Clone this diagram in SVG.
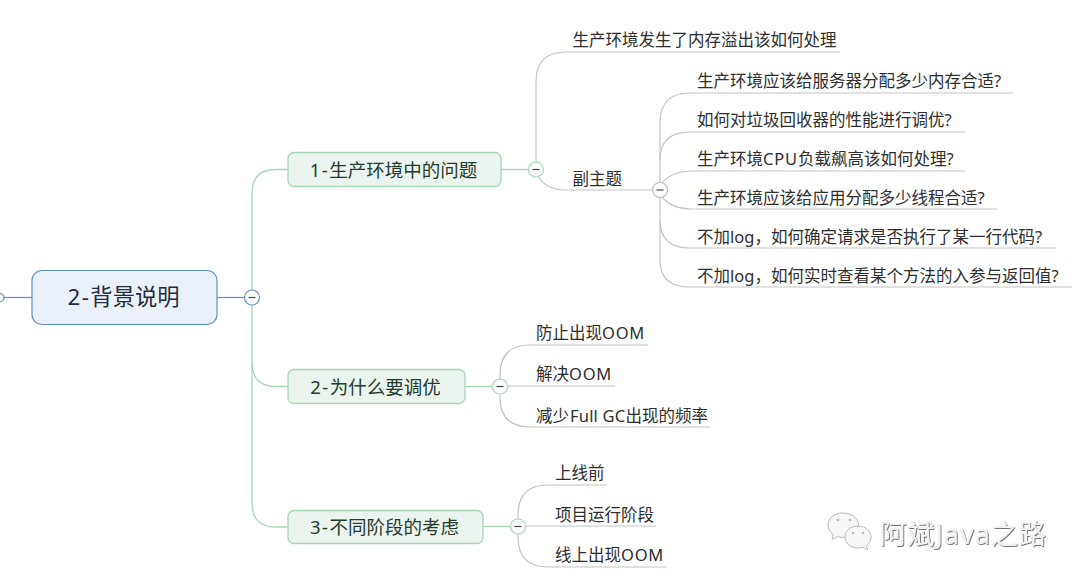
<svg xmlns="http://www.w3.org/2000/svg" width="1080" height="581" viewBox="0 0 1080 581">
<defs>
<style>
text{font-family:"Noto Sans","Noto Sans CJK SC",sans-serif;fill:#2e2e2e}
.sub{font-size:16.5px}
.lat{letter-spacing:.8px}
.lat2{letter-spacing:1.5px}
.topic{font-size:18.5px;text-anchor:middle;fill:#243a2c}
.rootT{font-size:22.3px;text-anchor:middle;fill:#1f2d3d}
.tb{fill:#ebf4ee;stroke:#a6d8b5;stroke-width:1.3}
.g{fill:none;stroke:#a6d8b5;stroke-width:1.3}
.l{fill:none;stroke:#c4c4c4;stroke-width:1.2}
.tg{fill:#fff;stroke:#a6d8b5;stroke-width:1.2}
.tl{fill:#fff;stroke:#bdbdbd;stroke-width:1.2}
.tbl{fill:#fff;stroke:#5f8fc7;stroke-width:1.2}
.m{stroke:#444;stroke-width:1.2}
.wm{font-size:27px;fill:#f2f2f2;filter:url(#emb);letter-spacing:1px}
.ic{fill:#f7f7f7;stroke:#bbb;stroke-width:1}
</style>
<filter id="emb" x="-5%" y="-20%" width="110%" height="140%"><feDropShadow dx="0.8" dy="0.8" stdDeviation="0.5" flood-color="#555"/></filter>
</defs>
<g id="connectors">
<path d="M0 297.500H32" fill="none" stroke="#5f8fc7" stroke-width="1.2"/>
<path d="M217 297.500H245" fill="none" stroke="#5f8fc7" stroke-width="1.2"/>
<path class="g" d="M288 169.500H276Q252 169.500 252 193.500V503Q252 527 276 527H288"/>
<path class="g" d="M252 362Q252 386.500 276 386.500H288"/>
<path class="g" d="M501 169.500H529"/>
<path class="g" d="M465 386.500H493"/>
<path class="g" d="M483 526.500H511"/>
<path class="l" d="M840 52H566Q536 52 536 82V162"/>
<path class="l" d="M538 176Q546 190 566 190H652"/>
<path class="l" d="M1013 93H690Q660 93 660 123V260Q660 287 690 287H1072"/>
<path class="l" d="M965 132H690Q660 132 660 160"/>
<path class="l" d="M965 171H692Q672 171 662 183"/>
<path class="l" d="M997 209H692Q672 209 662 197"/>
<path class="l" d="M1056 248H690Q660 248 660 220"/>
<path class="l" d="M648 345H530Q500 345 500 375V397Q500 427 530 427H710"/>
<path class="l" d="M615 386H507"/>
<path class="l" d="M607 485H548Q518 485 518 515V537Q518 567 548 567H666"/>
<path class="l" d="M656 526H525"/>
</g>
<g id="root">
<path d="M0 293.500A4 4 0 0 1 0 301.500" class="tbl"/>
<rect x="32" y="270.500" width="185" height="54" rx="10" fill="#ebf1fa" stroke="#5f8fc7" stroke-width="1.2"/>
<text class="rootT" x="123.500" y="305"><tspan class="lat2">2-</tspan>背景说明</text>
<circle class="tbl" cx="252" cy="297.500" r="7.500"/><path class="m" d="M248.500 297.500h7"/>
</g>
<g id="t1">
<rect class="tb" x="288" y="152.500" width="213" height="34" rx="6"/>
<text class="topic" x="393.500" y="176.500"><tspan class="lat2">1-</tspan>生产环境中的问题</text>
<circle class="tg" cx="536" cy="169.500" r="7.500"/><path class="m" d="M532.500 169.500h7"/>
</g>
<g id="t2">
<rect class="tb" x="288" y="369.500" width="177" height="34" rx="6"/>
<text class="topic" x="375.500" y="393.500"><tspan class="lat2">2-</tspan>为什么要调优</text>
<circle class="tg" cx="500" cy="386.500" r="7.500"/><path class="m" d="M496.500 386.500h7"/>
</g>
<g id="t3">
<rect class="tb" x="288" y="510.500" width="195" height="33" rx="6"/>
<text class="topic" x="384.500" y="533.500"><tspan class="lat2">3-</tspan>不同阶段的考虑</text>
<circle class="tg" cx="518" cy="526.500" r="7.500"/><path class="m" d="M514.500 526.500h7"/>
</g>
<g id="s0"><text class="sub" x="572.500" y="46">生产环境发生了内存溢出该如何处理</text></g>
<g id="s1"><text class="sub" x="572.500" y="185">副主题</text>
<circle class="tl" cx="660" cy="190" r="7.500"/><path class="m" d="M656.500 190h7"/></g>
<g id="s1a"><text class="sub" x="697" y="87">生产环境应该给服务器分配多少内存合适?</text></g>
<g id="s1b"><text class="sub" x="697" y="126">如何对垃圾回收器的性能进行调优?</text></g>
<g id="s1c"><text class="sub" x="697" y="165">生产环境<tspan class="lat">CPU</tspan>负载飙高该如何处理?</text></g>
<g id="s1d"><text class="sub" x="697" y="204">生产环境应该给应用分配多少线程合适?</text></g>
<g id="s1e"><text class="sub" x="697" y="243">不加log，如何确定请求是否执行了某一行代码?</text></g>
<g id="s1f"><text class="sub" x="697" y="282">不加log，如何实时查看某个方法的入参与返回值?</text></g>
<g id="s2a"><text class="sub" x="536" y="339"><tspan>防止出现</tspan><tspan class="lat">OOM</tspan></text></g>
<g id="s2b"><text class="sub" x="536" y="380"><tspan>解决</tspan><tspan class="lat">OOM</tspan></text></g>
<g id="s2c"><text class="sub" x="536" y="421.500">减少<tspan dx="1" letter-spacing=".2">Full GC</tspan>出现的频率</text></g>
<g id="s3a"><text class="sub" x="555" y="479">上线前</text></g>
<g id="s3b"><text class="sub" x="555" y="520.500">项目运行阶段</text></g>
<g id="s3c"><text class="sub" x="555" y="561"><tspan>线上出现</tspan><tspan class="lat">OOM</tspan></text></g>
<g id="watermark">
<path class="ic" d="M843 513c-9 0-15 5.500-15 12 0 4 2 7 5 9.500l-1 5 5.500-3c2 .7 4 1 6 1 9 0 15-5.500 15-12.500s-7-12-15.500-12z"/>
<path class="ic" d="M858 526c-7.500 0-13 5-13 11s5.500 11 13 11c1.700 0 3.300-.3 5-.8l4.500 2.800-1-4.500c3-2 4.500-5 4.500-8.500 0-6-5.500-11-13-11z"/>
<g fill="#bbb"><circle cx="838" cy="520" r="1.300"/><circle cx="850" cy="520" r="1.300"/><circle cx="853" cy="533" r="1.200"/><circle cx="863" cy="533" r="1.200"/></g>
<text class="wm" x="879.500" y="544">阿斌Java之路</text>
</g>
</svg>
